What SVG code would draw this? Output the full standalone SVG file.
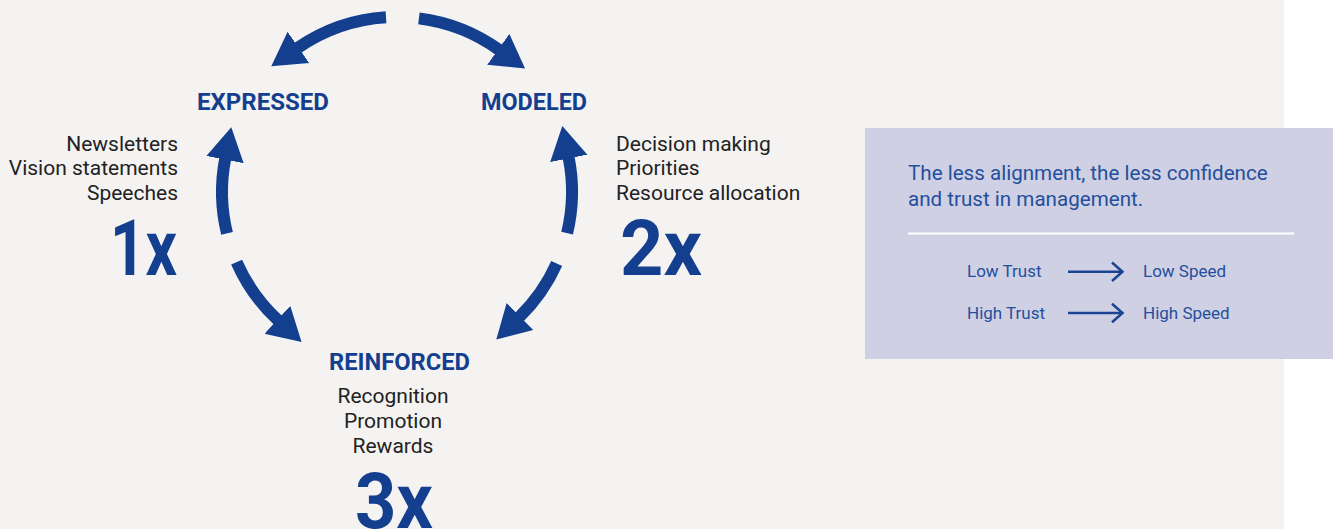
<svg xmlns="http://www.w3.org/2000/svg" width="1333" height="529" viewBox="0 0 1333 529">
  <style>
    .title { font-family: Roboto, "Liberation Sans", sans-serif; font-weight: 700; font-size: 24px; fill: #143f8f; }
    .desc { font-family: Roboto, "Liberation Sans", sans-serif; font-size: 21px; fill: #222222; }
    .big { font-family: Roboto, "Liberation Sans", sans-serif; font-weight: 700; font-size: 78px; fill: #143f8f; }
    .panel-text { font-family: Roboto, "Liberation Sans", sans-serif; font-size: 20.6px; fill: #244f9c; }
    .small { font-family: Roboto, "Liberation Sans", sans-serif; font-size: 17px; fill: #244f9c; }
    .cycle { fill: none; stroke: #143f8f; stroke-width: 12; marker-end: url(#head); }
    .link { fill: none; stroke: #1a4592; stroke-width: 2.5; }
  </style>
  <defs>
    <marker id="head" markerUnits="userSpaceOnUse" markerWidth="40" markerHeight="40" viewBox="0 -20 40 40" refX="1" refY="0" orient="auto">
      <path d="M0,-19 L33,0 L0,19 Z" fill="#143f8f"/>
    </marker>
  </defs>

  <rect x="0" y="0" width="1284" height="529" fill="#f4f3f2"/>

  <g id="connectors">
    <path class="cycle" d="M386,17.3 A175,175 0 0 0 297.6,48.0"/>
    <path class="cycle" d="M418.9,18.4 A175,175 0 0 1 499.1,49.9"/>
    <path class="cycle" d="M227,233.4 A175,175 0 0 1 225.2,158.6"/>
    <path class="cycle" d="M236.6,262.1 A175,175 0 0 0 278.1,320.4"/>
    <path class="cycle" d="M567.1,233.1 A175,175 0 0 0 568.6,157.4"/>
    <path class="cycle" d="M556.7,263.5 A175,175 0 0 1 519.2,317.2"/>
  </g>

  <g id="expressed">
    <text class="title" x="197" y="110" textLength="132" lengthAdjust="spacingAndGlyphs">EXPRESSED</text>
    <text class="desc" x="178" y="151" text-anchor="end">Newsletters</text>
    <text class="desc" x="178" y="175" text-anchor="end">Vision statements</text>
    <text class="desc" x="178" y="199.5" text-anchor="end">Speeches</text>
    <text class="big" x="110" y="275" textLength="67" lengthAdjust="spacingAndGlyphs">1x</text>
  </g>

  <g id="modeled">
    <text class="title" x="481" y="110" textLength="106" lengthAdjust="spacingAndGlyphs">MODELED</text>
    <text class="desc" x="616" y="151">Decision making</text>
    <text class="desc" x="616" y="175">Priorities</text>
    <text class="desc" x="616" y="199.5">Resource allocation</text>
    <text class="big" x="620" y="275" textLength="82" lengthAdjust="spacingAndGlyphs">2x</text>
  </g>

  <g id="reinforced">
    <text class="title" x="329" y="370" textLength="141" lengthAdjust="spacingAndGlyphs">REINFORCED</text>
    <text class="desc" x="393" y="403" text-anchor="middle">Recognition</text>
    <text class="desc" x="393" y="428" text-anchor="middle">Promotion</text>
    <text class="desc" x="393" y="453" text-anchor="middle">Rewards</text>
    <text class="big" x="355" y="528" textLength="78" lengthAdjust="spacingAndGlyphs">3x</text>
  </g>

  <g id="panel">
    <rect x="865" y="128" width="468" height="231" fill="#cfd0e4"/>
    <text class="panel-text" x="908" y="180">The less alignment, the less confidence</text>
    <text class="panel-text" x="908" y="206">and trust in management.</text>
    <line x1="908" y1="233.5" x2="1294" y2="233.5" stroke="#ffffff" stroke-width="1.8"/>
    <text class="small" x="967" y="277">Low Trust</text>
    <line class="link" x1="1068" y1="271.7" x2="1122" y2="271.7"/>
    <path class="link" d="M1112,262.5 L1122.5,271.7 L1112,281"/>
    <text class="small" x="1143" y="277">Low Speed</text>
    <text class="small" x="967" y="319">High Trust</text>
    <line class="link" x1="1068" y1="313" x2="1122" y2="313"/>
    <path class="link" d="M1112,303.8 L1122.5,313 L1112,322.3"/>
    <text class="small" x="1143" y="319">High Speed</text>
  </g>
</svg>
